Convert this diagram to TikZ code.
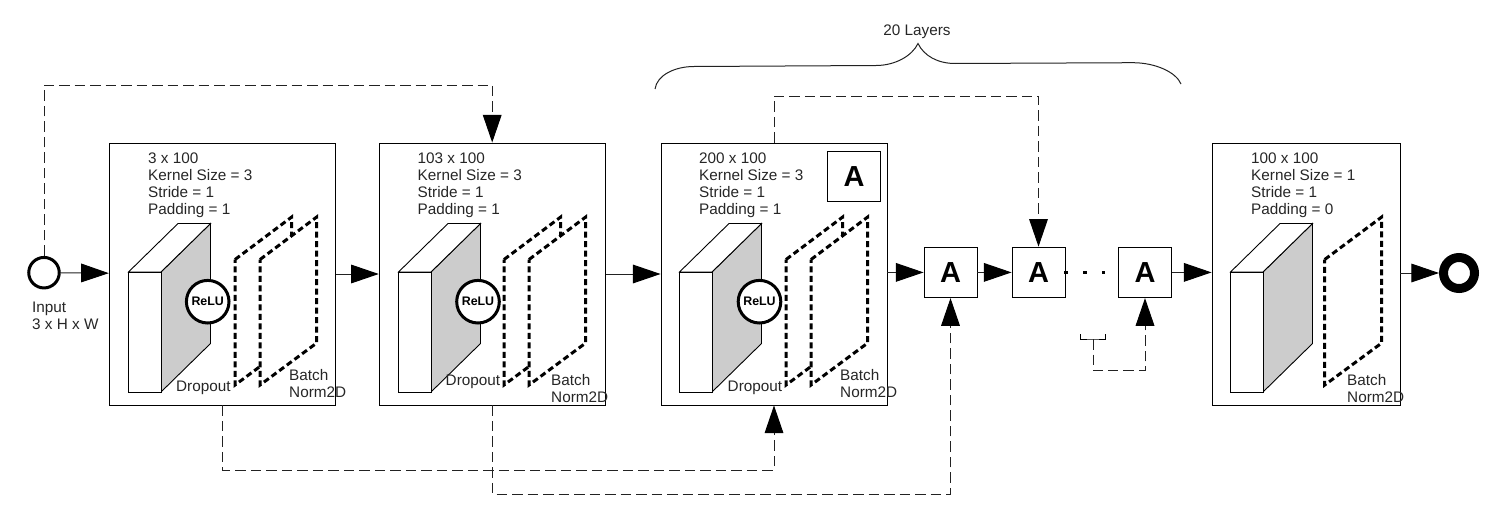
\documentclass[tikz,border=0pt]{standalone}
\usepackage{fontspec}
\setmainfont{Liberation Sans}
\usepackage{tikz}
\usetikzlibrary{arrows.meta,calc,positioning}
\definecolor{cSide}{HTML}{CCCCCC}
\definecolor{cLine}{HTML}{222222}

\begin{document}
\begin{tikzpicture}[x=1pt,y=-1pt,
   >={Triangle[length=27.7pt,width=18.7pt,color=black]},
   lbl/.style={font=\fontsize{15.3}{17}\selectfont,align=left,inner sep=0pt,anchor=west,text=black!85},
   block/.style={draw,line width=0.9pt,rectangle,minimum width=#1,minimum height=262pt,inner sep=0pt},
   abox/.style={draw,line width=0.9pt,fill=white,rectangle,minimum width=53pt,minimum height=50.5pt,inner sep=0pt,font=\fontsize{29}{29}\selectfont\bfseries},
   relu/.style={draw,line width=3pt,fill=white,circle,minimum size=42.6pt,inner sep=0pt,font=\fontsize{12.4}{13}\selectfont\bfseries},
   vec/.style={line width=1pt,cLine,->},
   skip/.style={line width=1pt,cLine,dash pattern=on 10.5pt off 5pt,->},
   bn/.style={line width=3pt,dash pattern=on 6pt off 3.5pt,fill=white,line join=miter}]
  \useasboundingbox (0,0) rectangle (1498,519);
  % blocks
  \node[block=226.5pt] (blockA) at (222.5,274) {};
  \node[block=226pt] (blockB) at (492.2,274) {};
  \node[block=226pt] (blockC) at (774,274) {};
  \node[block=188pt] (blockD) at (1306,274) {};
  % cuboids
  \foreach \dx in {0,270,551,1102}{
    \begin{scope}[xshift=\dx pt]
      \draw[line width=0.9pt,fill=cSide] (161,272) -- (210.5,223.5) -- (210.5,343.5) -- (161,392) -- cycle;
      \draw[line width=0.9pt,fill=white] (128.5,272) -- (178,223.5) -- (210.5,223.5) -- (161,272) -- cycle;
      \draw[line width=0.9pt,fill=white] (128.5,272) rectangle (161,392);
    \end{scope}
  }
  % batch norm and dropout planes
  \foreach \dx in {0,269,551}{
    \begin{scope}[xshift=\dx pt]
      \draw[bn] (235,259.5) -- (291.7,217) -- (291.7,343) -- (235,385) -- cycle;
      \draw[bn] (260,259.5) -- (316.7,217) -- (316.7,343) -- (260,385) -- cycle;
    \end{scope}
  }
  \draw[bn] (1324.7,259.5) -- (1381.7,217) -- (1381.7,343) -- (1324.7,385) -- cycle;
  % activations
  \node[relu] (reluA) at (207.7,301.7) {ReLU};
  \node[relu] (reluB) at (478,301.7) {ReLU};
  \node[relu] (reluC) at (759.5,301.7) {ReLU};
  % block texts
  \node[lbl] (infoA) at (148,185.5) {3 x 100\\Kernel Size = 3\\Stride = 1\\Padding = 1};
  \node[lbl] (infoB) at (417.5,185.5) {103 x 100\\Kernel Size = 3\\Stride = 1\\Padding = 1};
  \node[lbl] (infoC) at (699,185.5) {200 x 100\\Kernel Size = 3\\Stride = 1\\Padding = 1};
  \node[lbl] (infoD) at (1251,185.5) {100 x 100\\Kernel Size = 1\\Stride = 1\\Padding = 0};
  \node[lbl] (dropA) at (176,388) {Dropout};
  \node[lbl] (dropB) at (445.5,382) {Dropout};
  \node[lbl] (dropC) at (727.5,388) {Dropout};
  \node[lbl] (normA) at (289,384) {Batch\\Norm2D};
  \node[lbl] (normB) at (551,389) {Batch\\Norm2D};
  \node[lbl] (normC) at (840,384) {Batch\\Norm2D};
  \node[lbl] (normD) at (1347,389) {Batch\\Norm2D};
  % input, output
  \node[draw,line width=3pt,circle,minimum size=30.5pt,inner sep=0pt] (input) at (44,272.7) {};
  \node[lbl] (inputlbl) at (32,316) {Input\\3 x H x W};
  \node[draw,line width=9pt,circle,minimum size=31pt,inner sep=0pt] (output) at (1459,273) {};
  % A boxes
  \node[abox] (legend) at (854,176.5) {A};
  \node[abox] (aOne) at (950.5,272.4) {A};
  \node[abox] (aTwo) at (1038.5,272.4) {A};
  \node[abox] (aLast) at (1145,272.4) {A};
  \foreach \x in {1066,1085,1103.7}{\fill (\x-1.6,270.9) rectangle (\x+1.6,274.1);}
  % main path
  \draw[vec] (input) -- (blockA);
  \draw[vec] (blockA) -- (blockB);
  \draw[vec] (blockB) -- (blockC);
  \draw[vec] (blockC.east |- aOne) -- (aOne);
  \draw[vec] (aOne) -- (aTwo);
  \draw[vec] (aLast) -- (aLast -| blockD.west);
  \draw[vec] (blockD.east |- output) -- (output);
  % skip connections
  \coordinate (skipIn) at (44,85);
  \coordinate (skipC) at (774,96);
  \coordinate (skipA) at (222.5,470);
  \coordinate (skipB) at (492.2,494);
  \draw[skip] (input.north) -- (skipIn) -| (blockB.north);
  \draw[skip] (blockC.north) -- (skipC) -| (aTwo.north);
  \draw[skip] (blockA.south) -- (skipA) -| (blockC.south);
  \draw[skip] (blockB.south) -- (skipB) -| (aOne.south);
  % small bracket
  \coordinate (brL) at (1080.7,334);
  \coordinate (brR) at (1105.7,334);
  \coordinate (brS) at (1093,339);
  \coordinate (brB) at (1093,370.7);
  \draw[line width=0.9pt] (brL) |- (brS) -| (brR);
  \draw[skip] (brS) -- (brB) -| (aLast.south);
  % top brace
  \coordinate (braceL) at (655,89);
  \coordinate (braceR) at (1181,84);
  \coordinate (braceM) at (918,43.5);
  \draw[line width=1pt,cLine] (braceL) .. controls (657,75) and (675,66.5) .. (694,66.5)
     -- (876,65.5) .. controls (895,65.5) and (912,56) .. (braceM)
     .. controls (924,56) and (938,63.5) .. (955,63.5)
     -- (1133,62.7) .. controls (1155,62.7) and (1176,72) .. (braceR);
  \node[lbl,anchor=center] (brace) at (917,31.5) {20 Layers};
\end{tikzpicture}
\end{document}
